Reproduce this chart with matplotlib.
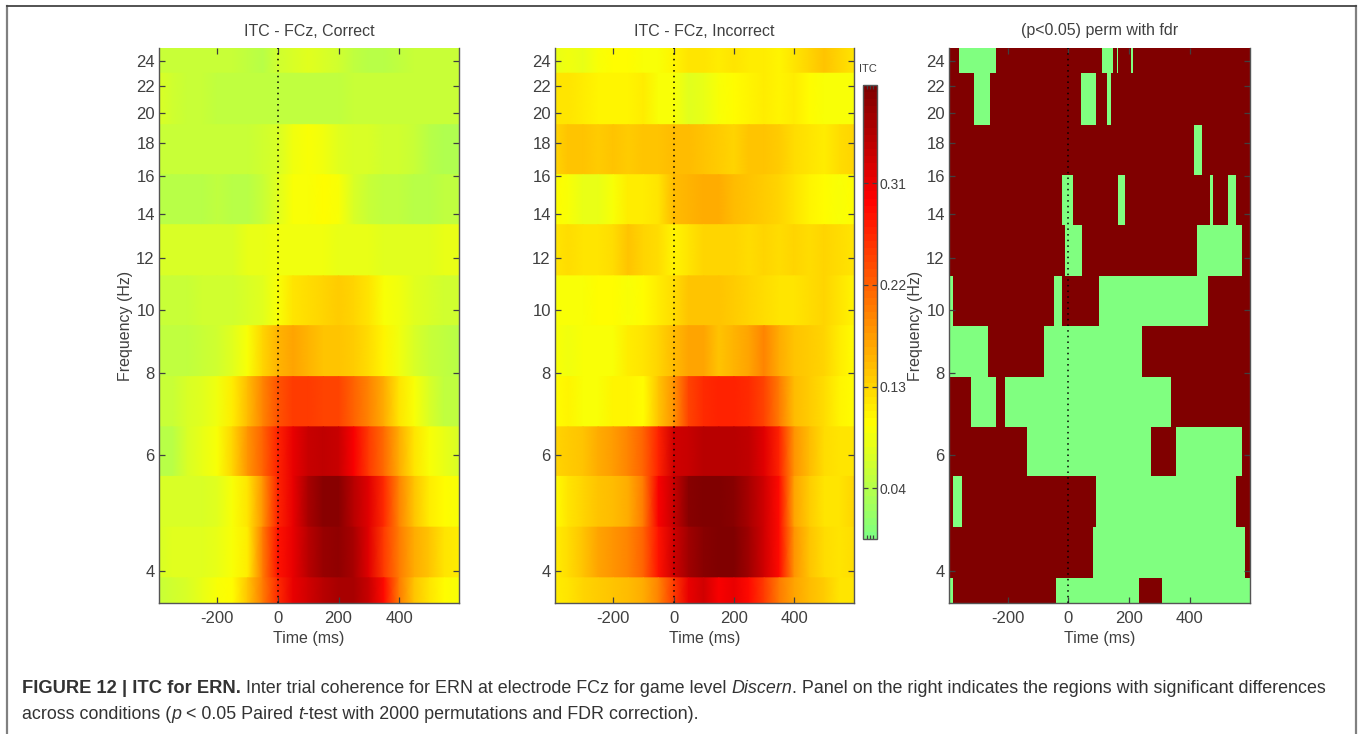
import numpy as np
import matplotlib
matplotlib.use('Agg')
import matplotlib.pyplot as plt
from matplotlib.cm import ScalarMappable
from matplotlib.colors import LinearSegmentedColormap, Normalize
from matplotlib.lines import Line2D

plt.rcParams['font.family'] = ['Liberation Sans', 'DejaVu Sans']
plt.rcParams['axes.unicode_minus'] = False

W, H = 1360, 734
TXT = '#404040'

# time bins (ms) and frequency band edges (Hz), top band first
times = [-393, -350, -300, -250, -200, -150, -100, -50, 0, 50, 100, 150, 200, 250, 300, 350, 400, 450, 500, 550, 598]
band_edges = [25.1, 22.97, 19.17, 16.08, 13.49, 11.27, 9.46, 7.91, 6.63, 5.57, 4.66, 3.90, 3.57]
freq_ticks = [4, 6, 8, 10, 12, 14, 16, 18, 20, 22, 24]
time_ticks = [-200, 0, 200, 400]
itc_ticks = [0.04, 0.13, 0.22, 0.31]
itc_min, itc_max = -0.005, 0.397

itc_correct = [
    [.055, .055, .055, .055, .055, .055, .05, .045, .06, .07, .075, .065, .06, .05, .04, .045, .05, .055, .055, .055, .055],
    [.065, .06, .055, .055, .05, .05, .05, .05, .05, .05, .05, .05, .05, .055, .055, .055, .055, .055, .055, .055, .055],
    [.055, .055, .055, .055, .055, .055, .055, .06, .07, .085, .09, .085, .075, .07, .065, .06, .06, .055, .045, .035, .035],
    [.045, .04, .04, .04, .05, .045, .04, .055, .075, .09, .095, .10, .09, .07, .055, .05, .05, .045, .04, .05, .05],
    [.065, .065, .065, .065, .065, .07, .08, .08, .085, .085, .085, .085, .08, .08, .08, .075, .075, .075, .075, .08, .08],
    [.055, .055, .055, .06, .06, .06, .065, .075, .095, .115, .125, .13, .135, .13, .115, .095, .085, .075, .065, .06, .06],
    [.05, .05, .05, .055, .06, .075, .095, .13, .155, .165, .155, .145, .14, .135, .125, .105, .085, .065, .055, .05, .045],
    [.055, .055, .065, .075, .085, .11, .15, .19, .23, .25, .25, .245, .24, .22, .19, .16, .12, .095, .065, .05, .05],
    [.045, .045, .065, .08, .095, .13, .18, .22, .27, .31, .34, .345, .34, .30, .25, .21, .16, .12, .095, .08, .07],
    [.065, .065, .065, .07, .075, .095, .12, .18, .27, .31, .36, .39, .39, .35, .32, .26, .19, .14, .11, .10, .095],
    [.07, .075, .075, .075, .08, .09, .11, .20, .28, .31, .35, .375, .38, .36, .32, .25, .20, .16, .14, .12, .11],
    [.055, .06, .07, .08, .09, .10, .14, .20, .26, .31, .33, .35, .36, .36, .34, .29, .20, .14, .12, .10, .095],
]

itc_incorrect = [
    [.08, .085, .08, .09, .10, .10, .095, .09, .105, .12, .115, .11, .115, .11, .11, .105, .12, .13, .14, .13, .12],
    [.12, .115, .11, .105, .105, .105, .11, .095, .09, .075, .08, .09, .10, .105, .11, .105, .11, .10, .09, .095, .095],
    [.13, .14, .14, .135, .14, .135, .14, .14, .15, .15, .14, .135, .13, .14, .145, .135, .125, .115, .11, .125, .13],
    [.10, .09, .08, .08, .095, .11, .11, .12, .15, .155, .16, .16, .15, .14, .135, .13, .12, .105, .10, .095, .10],
    [.12, .125, .12, .12, .125, .14, .13, .125, .105, .12, .13, .13, .13, .125, .13, .125, .13, .125, .13, .125, .115],
    [.095, .095, .09, .10, .10, .095, .10, .11, .125, .14, .145, .14, .135, .13, .125, .115, .12, .125, .13, .115, .105],
    [.09, .085, .09, .09, .095, .11, .12, .13, .15, .17, .165, .14, .155, .17, .19, .16, .14, .135, .13, .11, .10],
    [.10, .105, .095, .09, .105, .105, .10, .14, .18, .24, .265, .27, .27, .265, .245, .20, .15, .135, .125, .105, .10],
    [.13, .135, .145, .16, .175, .19, .22, .27, .33, .34, .35, .35, .35, .345, .32, .27, .18, .15, .125, .12, .115],
    [.10, .115, .13, .145, .15, .16, .20, .30, .34, .39, .395, .395, .39, .36, .33, .29, .17, .135, .12, .12, .13],
    [.11, .125, .145, .17, .18, .19, .22, .28, .33, .37, .385, .395, .395, .37, .33, .29, .18, .14, .125, .12, .125],
    [.11, .12, .13, .135, .145, .15, .16, .19, .25, .31, .33, .30, .31, .29, .25, .20, .17, .15, .135, .115, .12],
]

# stretches (start, end in ms) drawn green for each band, top band first
not_sig_spans = [
    [(-359, -238), (111, 148), (159, 165), (205, 213)],
    [(-312, -258), (43, 91), (128, 139)],
    [(412, 439)],
    [(-21, 16), (165, 185), (467, 477), (524, 551)],
    [(-11, 44), (422, 572)],
    [(-393, -380), (-48, -21), (101, 460)],
    [(-393, -265), (-79, 243)],
    [(-321, -238), (-210, 338)],
    [(-136, 271), (355, 572)],
    [(-379, -350), (91, 551)],
    [(81, 582)],
    [(-393, -380), (-42, 233), (307, 598)],
]

# upper half of jet
itc_cmap = LinearSegmentedColormap.from_list(
    'itc', [(0, (.5, 1, .5)), (.25, (1, 1, 0)), (.75, (1, 0, 0)), (1, (.5, 0, 0))], N=64)


def px_axes(fig, x0, y0, x1, y1):
    return fig.add_axes([x0 / W, 1 - y1 / H, (x1 - x0) / W, (y1 - y0) / H])


def style_panel(ax, title, ylabel=True):
    ax.set_yscale('log')
    ax.set_xlim(times[0], times[-1])
    ax.set_ylim(band_edges[-1], band_edges[0])
    ax.set_xticks(time_ticks)
    ax.set_yticks(freq_ticks)
    ax.set_yticklabels([str(f) for f in freq_ticks])
    ax.minorticks_off()
    ax.tick_params(which='major', direction='in', length=4.5, width=0.9, top=True, right=True,
                   labelsize=12, colors=TXT)
    ax.tick_params(axis='y', pad=3)
    ax.tick_params(axis='x', pad=6)
    ax.axvline(0, color='black', linestyle=(0, (1, 2.7)), linewidth=1.1)
    for side in ax.spines:
        ax.spines[side].set_color('#555555')
        ax.spines[side].set_linewidth(1.0)
    ax.spines['top'].set_visible(False)
    ax.set_xlabel('Time (ms)', fontsize=11.5, color=TXT, labelpad=3.5)
    if ylabel:
        ax.set_ylabel('Frequency (Hz)', fontsize=11.5, color=TXT, labelpad=2.5)
    ax.set_title(title, fontsize=11.5, color=TXT, pad=9)


def draw_itc(ax, values):
    for i, row in enumerate(values):
        ax.pcolormesh(times, [band_edges[i + 1], band_edges[i]], np.array([row, row]),
                      shading='gouraud', cmap=itc_cmap, vmin=itc_min, vmax=itc_max)


fig = plt.figure(figsize=(W / 100, H / 100), dpi=100)

ax1 = px_axes(fig, 159, 48, 459, 603)
draw_itc(ax1, itc_correct)
style_panel(ax1, 'ITC - FCz, Correct')

ax2 = px_axes(fig, 555, 48, 854, 603)
draw_itc(ax2, itc_incorrect)
style_panel(ax2, 'ITC - FCz, Incorrect', ylabel=False)

ax3 = px_axes(fig, 949, 48, 1250, 603)
ax3.set_facecolor('#800000')
ax3.set_yscale('log')
for i, spans in enumerate(not_sig_spans):
    lo, hi = band_edges[i + 1], band_edges[i]
    ax3.broken_barh([(a, b - a) for a, b in spans], (lo, hi - lo), facecolor='#80FF80', edgecolor='none')
style_panel(ax3, '(p<0.05) perm with fdr')

cax = px_axes(fig, 863, 85, 877, 539)
cb = fig.colorbar(ScalarMappable(Normalize(itc_min, itc_max), itc_cmap), cax=cax)
cb.set_ticks(itc_ticks)
cb.set_ticklabels(['%.2f' % t for t in itc_ticks])
cax.yaxis.set_ticks_position('both')
cax.yaxis.set_label_position('right')
cax.tick_params(axis='y', direction='in', length=3.5, width=0.9, labelsize=10, colors=TXT, pad=2,
                left=True, right=True, labelleft=False, labelright=True)
cb.outline.set_edgecolor('#555555')
cb.outline.set_linewidth(1.0)
cax.xaxis.set_visible(True)
cax.set_xticks([0.25, 0.5, 0.75])
cax.set_xticklabels([])
cax.tick_params(axis='x', direction='in', length=3, width=0.9, top=True, bottom=True, color=TXT)
fig.text(859 / W, 1 - 69 / H, 'ITC', fontsize=8, color=TXT, va='center', ha='left')

# page frame
frame = '#808080'
fig.add_artist(Line2D([7 / W, 7 / W], [0, 1 - 6 / H], color=frame, lw=1.6))
fig.add_artist(Line2D([1356 / W, 1356 / W], [0, 1 - 6 / H], color=frame, lw=1.6))
fig.add_artist(Line2D([7 / W, 1356 / W], [1 - 6 / H, 1 - 6 / H], color='#444444', lw=1.3))

# caption with mixed weights, placed piece by piece
caption_lines = [
    (22, 693, [('FIGURE 12 | ITC for ERN.', 'bold', 'normal'),
               (' Inter trial coherence for ERN at electrode FCz for game level ', 'normal', 'normal'),
               ('Discern', 'normal', 'italic'),
               ('. Panel on the right indicates the regions with significant differences', 'normal', 'normal')]),
    (22, 719, [('across conditions (', 'normal', 'normal'), ('p', 'normal', 'italic'),
               (' < 0.05 Paired ', 'normal', 'normal'), ('t', 'normal', 'italic'),
               ('-test with 2000 permutations and FDR correction).', 'normal', 'normal')]),
]
renderer = fig.canvas.get_renderer()
for x0, y0, pieces in caption_lines:
    x = x0
    for s, weight, style in pieces:
        size = 13.2 if weight == 'bold' else 12.85
        t = fig.text(x / W, 1 - y0 / H, s, fontsize=size, color='#333333', weight=weight, style=style,
                     va='baseline', ha='left')
        x += t.get_window_extent(renderer).width

fig.savefig('out.png', dpi=100)
